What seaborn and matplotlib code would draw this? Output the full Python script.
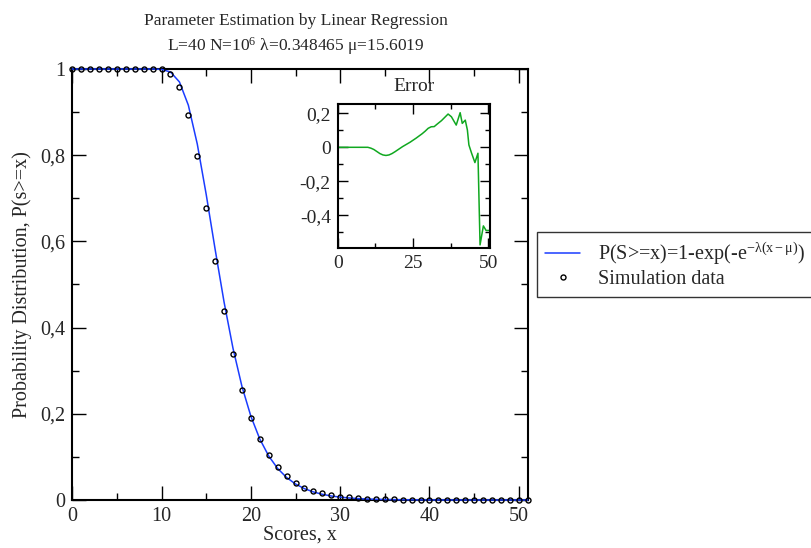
import matplotlib
matplotlib.use("Agg")
import matplotlib.pyplot as plt
from matplotlib.ticker import MultipleLocator, FuncFormatter
import seaborn as sns
import pandas as pd

# ---- data ----
scores = list(range(0, 52))
fit_curve = [1.0] * 10 + [0.9991, 0.9931, 0.9700, 0.9159, 0.8258, 0.7087, 0.5813, 0.4590,
                          0.3518, 0.2636, 0.1943, 0.1414, 0.1020, 0.0731, 0.0522, 0.0371,
                          0.0263, 0.0187, 0.0132, 0.0093, 0.0066, 0.0047, 0.0033, 0.0023,
                          0.0016, 0.0012, 0.0008, 0.0006, 0.0004, 0.0003, 0.0002, 0.0001,
                          0.0001, 0.0001, 0.0, 0.0, 0.0, 0.0, 0.0, 0.0, 0.0, 0.0]
sim_data = [1.0] * 11 + [0.989, 0.958, 0.893, 0.797, 0.678, 0.555, 0.439, 0.338, 0.255,
                         0.190, 0.141, 0.104, 0.076, 0.056, 0.039, 0.028, 0.021, 0.0155,
                         0.0116, 0.0077, 0.006, 0.0045, 0.0033, 0.0024, 0.0017, 0.0012,
                         0.0008, 0.0006, 0.0004, 0.0003, 0.0002, 0.0001, 0.0001, 0.0001,
                         0.0, 0.0, 0.0, 0.0, 0.0, 0.0, 0.0]
err_x = [0, 10, 11, 12, 13, 14, 15, 16, 17, 18, 19, 20, 21.5, 24, 26, 28, 29, 30, 31, 32, 33,
         34.4, 36.6, 37.7, 39.3, 40.6, 41.3, 42.3, 43.0, 43.5, 44.4, 45.5, 46.5, 47.2, 48.3,
         49.2, 50.5]
err_y = [0, 0, -0.005, -0.013, -0.025, -0.037, -0.045, -0.048, -0.045, -0.037, -0.026,
         -0.014, 0.004, 0.030, 0.054, 0.080, 0.095, 0.112, 0.121, 0.122, 0.137, 0.157, 0.196,
         0.18, 0.131, 0.204, 0.141, 0.16, 0.102, 0.014, -0.035, -0.09, -0.035, -0.575, -0.463,
         -0.49, -0.49]

title_lines = ["Parameter Estimation by Linear Regression",
               "L=40 N=10$^{6}$ \u03bb=0.348465 \u03bc=15.6019"]
fit_label = "P(S>=x)=1-exp(-e$^{-\u03bb(x-\u03bc)}$)"
sim_label = "Simulation data"

sns.set_style("ticks")
plt.rcParams["font.family"] = ["Liberation Serif", "DejaVu Serif"]
plt.rcParams["mathtext.fontset"] = "custom"
plt.rcParams["mathtext.rm"] = "Liberation Serif"
plt.rcParams["mathtext.it"] = "Liberation Serif:italic"
plt.rcParams["mathtext.default"] = "regular"

fig = plt.figure(figsize=(8.11, 5.48), dpi=100)
ax = fig.add_axes([0.0891, 0.0876, 0.5616, 0.7865])

df = pd.DataFrame({"x": scores, "fit": fit_curve, "sim": sim_data})
sns.lineplot(data=df, x="x", y="fit", ax=ax, color="#1a3cff", linewidth=1.1,
             estimator=None, label=fit_label)
sns.lineplot(data=df, x="x", y="sim", ax=ax, linestyle="", marker="o", markersize=3.6,
             markerfacecolor="none", markeredgecolor="black", markeredgewidth=1.0,
             color="black", estimator=None, label=sim_label)
for ln in ax.lines:
    ln.set_clip_on(False)
    ln.set_zorder(5)

ax.set_xlim(0, 51)
ax.set_ylim(0, 1)

def comma(v, pos):
    s = f"{v:.1f}".rstrip("0").rstrip(".")
    if s == "-0":
        s = "0"
    return s.replace(".", ",")

ax.xaxis.set_major_locator(MultipleLocator(10))
ax.xaxis.set_minor_locator(MultipleLocator(5))
ax.yaxis.set_major_locator(MultipleLocator(0.2))
ax.yaxis.set_minor_locator(MultipleLocator(0.1))
ax.yaxis.set_major_formatter(FuncFormatter(comma))
ax.tick_params(which="both", direction="in", top=True, right=True, labelsize=14.5,
               color="black", width=1.0)
ax.tick_params(which="major", length=10, pad=5)
ax.tick_params(which="minor", length=5)
for sp in ax.spines.values():
    sp.set_linewidth(1.5)
    sp.set_color("black")
ax.set_xlabel("Scores, x", fontsize=14.5, labelpad=0)
ax.set_ylabel("Probability Distribution, P(s>=x)", fontsize=14.5, labelpad=6)

h, l = ax.get_legend_handles_labels()
if ax.get_legend() is not None:
    ax.get_legend().remove()
leg = fig.legend(h, l, loc="upper left", bbox_to_anchor=(537 / 811, 1 - 232 / 548),
                 frameon=True, fancybox=False, edgecolor="black", fontsize=14.5,
                 borderaxespad=0, handlelength=1.75, handletextpad=0.9, borderpad=0.4,
                 labelspacing=0.15)
leg.get_frame().set_linewidth(1.0)

fig.text(0.365, 1 - 21 / 548, title_lines[0], ha="center", va="center", fontsize=12.5)
fig.text(0.365, 1 - 46 / 548, title_lines[1], ha="center", va="center", fontsize=12.5)

# ---- inset ----
ins = fig.add_axes([0.4164, 0.5469, 0.1878, 0.2639])
sns.lineplot(x=err_x, y=err_y, ax=ins, color="#10a820", linewidth=1.1, estimator=None)
ins.set_xlim(0, 50.5)
ins.set_ylim(-0.595, 0.257)
ins.xaxis.set_major_locator(MultipleLocator(25))
ins.xaxis.set_minor_locator(MultipleLocator(12.5))
ins.yaxis.set_major_locator(MultipleLocator(0.2))
ins.yaxis.set_minor_locator(MultipleLocator(0.1))
ins.yaxis.set_major_formatter(FuncFormatter(comma))
ins.tick_params(which="both", direction="in", top=True, right=True, labelsize=14,
                color="black", width=1.0)
ins.tick_params(which="major", length=7, pad=5)
ins.tick_params(which="minor", length=3.5)
for sp in ins.spines.values():
    sp.set_linewidth(1.5)
    sp.set_color("black")
ins.set_title("Error", fontsize=14, pad=9)
ins.set_xlabel("")
ins.set_ylabel("")

fig.savefig("out.png", dpi=100)
